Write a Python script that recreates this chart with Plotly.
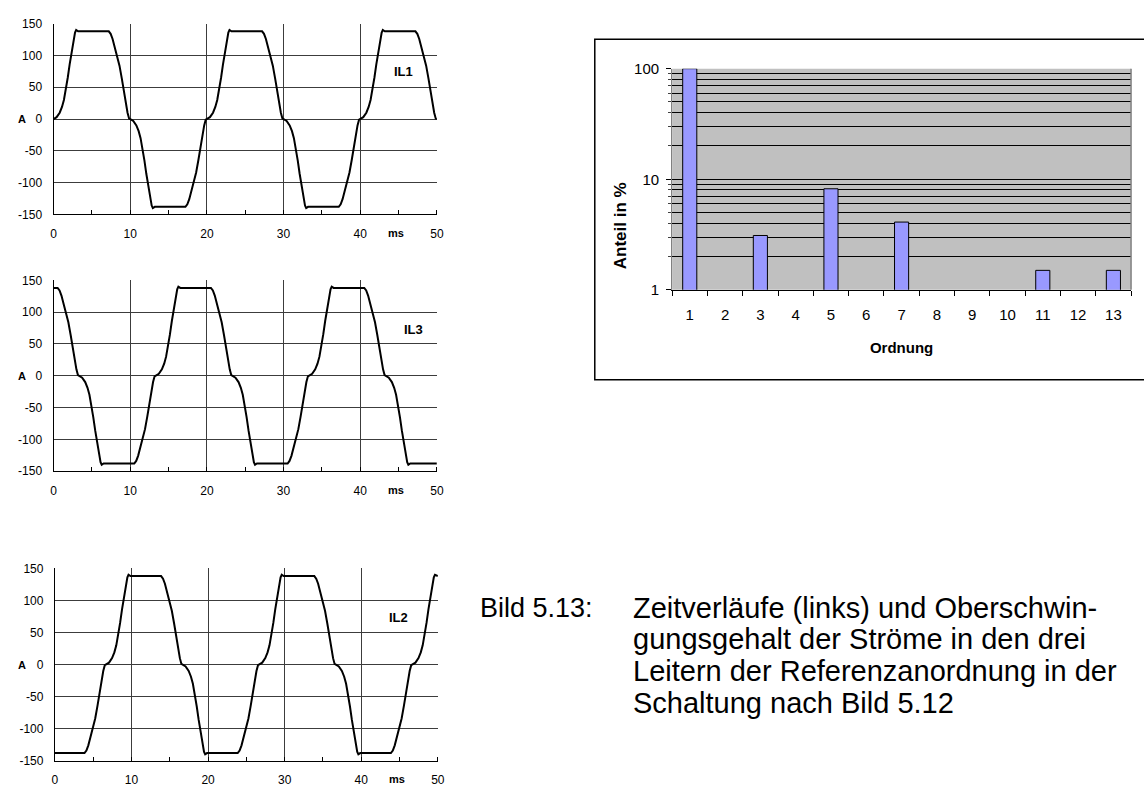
import plotly.graph_objects as go

# The graph div is pinned to the window's top-left corner and sized to the window,
# so nothing can scroll or rescale the page.
W, H = 1144, 789
FONT = "Liberation Sans, Arial, sans-serif"

# ---------------- data: phase currents (ms, A) ----------------
il1_t = [0, 0.4, 0.8, 1.1, 1.35, 1.6, 1.85, 2.1, 2.35, 2.6, 2.8, 2.95, 3.2, 7.2, 7.45, 7.7, 8.0, 8.3, 8.6, 8.9, 9.15, 9.4, 9.65, 9.85,
         10, 10.4, 10.8, 11.1, 11.35, 11.6, 11.85, 12.1, 12.35, 12.6, 12.8, 12.95, 13.2, 17.2, 17.45, 17.7, 18.0, 18.3, 18.6, 18.9, 19.15, 19.4, 19.65, 19.85,
         20, 20.4, 20.8, 21.1, 21.35, 21.6, 21.85, 22.1, 22.35, 22.6, 22.8, 22.95, 23.2, 27.2, 27.45, 27.7, 28.0, 28.3, 28.6, 28.9, 29.15, 29.4, 29.65, 29.85,
         30, 30.4, 30.8, 31.1, 31.35, 31.6, 31.85, 32.1, 32.35, 32.6, 32.8, 32.95, 33.2, 37.2, 37.45, 37.7, 38.0, 38.3, 38.6, 38.9, 39.15, 39.4, 39.65, 39.85,
         40, 40.4, 40.8, 41.1, 41.35, 41.6, 41.85, 42.1, 42.35, 42.6, 42.8, 42.95, 43.2, 47.2, 47.45, 47.7, 48.0, 48.3, 48.6, 48.9, 49.15, 49.4, 49.65, 49.85, 50]
il1_a = [0, 3, 10, 19, 30, 45, 65, 86, 104, 123, 136, 140, 138, 138, 134, 126, 112, 98, 84, 64, 45, 27, 10, 1,
         0, -3, -10, -19, -30, -45, -65, -86, -104, -123, -136, -140, -138, -138, -134, -126, -112, -98, -84, -64, -45, -27, -10, -1,
         0, 3, 10, 19, 30, 45, 65, 86, 104, 123, 136, 140, 138, 138, 134, 126, 112, 98, 84, 64, 45, 27, 10, 1,
         0, -3, -10, -19, -30, -45, -65, -86, -104, -123, -136, -140, -138, -138, -134, -126, -112, -98, -84, -64, -45, -27, -10, -1,
         0, 3, 10, 19, 30, 45, 65, 86, 104, 123, 136, 140, 138, 138, 134, 126, 112, 98, 84, 64, 45, 27, 10, 1, 0]

il3_t = [0, 0.53, 0.78, 1.03, 1.33, 1.63, 1.93, 2.23, 2.48, 2.73, 2.98, 3.18,
         3.33, 3.73, 4.13, 4.43, 4.68, 4.93, 5.18, 5.43, 5.68, 5.93, 6.13, 6.28, 6.53, 10.53, 10.78, 11.03, 11.33, 11.63, 11.93, 12.23, 12.48, 12.73, 12.98, 13.18,
         13.33, 13.73, 14.13, 14.43, 14.68, 14.93, 15.18, 15.43, 15.68, 15.93, 16.13, 16.28, 16.53, 20.53, 20.78, 21.03, 21.33, 21.63, 21.93, 22.23, 22.48, 22.73, 22.98, 23.18,
         23.33, 23.73, 24.13, 24.43, 24.68, 24.93, 25.18, 25.43, 25.68, 25.93, 26.13, 26.28, 26.53, 30.53, 30.78, 31.03, 31.33, 31.63, 31.93, 32.23, 32.48, 32.73, 32.98, 33.18,
         33.33, 33.73, 34.13, 34.43, 34.68, 34.93, 35.18, 35.43, 35.68, 35.93, 36.13, 36.28, 36.53, 40.53, 40.78, 41.03, 41.33, 41.63, 41.93, 42.23, 42.48, 42.73, 42.98, 43.18,
         43.33, 43.73, 44.13, 44.43, 44.68, 44.93, 45.18, 45.43, 45.68, 45.93, 46.13, 46.28, 46.53, 50]
il3_a = [138, 138, 134, 126, 112, 98, 84, 64, 45, 27, 10, 1,
         0, -3, -10, -19, -30, -45, -65, -86, -104, -123, -136, -140, -138, -138, -134, -126, -112, -98, -84, -64, -45, -27, -10, -1,
         0, 3, 10, 19, 30, 45, 65, 86, 104, 123, 136, 140, 138, 138, 134, 126, 112, 98, 84, 64, 45, 27, 10, 1,
         0, -3, -10, -19, -30, -45, -65, -86, -104, -123, -136, -140, -138, -138, -134, -126, -112, -98, -84, -64, -45, -27, -10, -1,
         0, 3, 10, 19, 30, 45, 65, 86, 104, 123, 136, 140, 138, 138, 134, 126, 112, 98, 84, 64, 45, 27, 10, 1,
         0, -3, -10, -19, -30, -45, -65, -86, -104, -123, -136, -140, -138, -138]

il2_t = [0, 3.87, 4.12, 4.37, 4.67, 4.97, 5.27, 5.57, 5.82, 6.07, 6.32, 6.52,
         6.67, 7.07, 7.47, 7.77, 8.02, 8.27, 8.52, 8.77, 9.02, 9.27, 9.47, 9.62, 9.87, 13.87, 14.12, 14.37, 14.67, 14.97, 15.27, 15.57, 15.82, 16.07, 16.32, 16.52,
         16.67, 17.07, 17.47, 17.77, 18.02, 18.27, 18.52, 18.77, 19.02, 19.27, 19.47, 19.62, 19.87, 23.87, 24.12, 24.37, 24.67, 24.97, 25.27, 25.57, 25.82, 26.07, 26.32, 26.52,
         26.67, 27.07, 27.47, 27.77, 28.02, 28.27, 28.52, 28.77, 29.02, 29.27, 29.47, 29.62, 29.87, 33.87, 34.12, 34.37, 34.67, 34.97, 35.27, 35.57, 35.82, 36.07, 36.32, 36.52,
         36.67, 37.07, 37.47, 37.77, 38.02, 38.27, 38.52, 38.77, 39.02, 39.27, 39.47, 39.62, 39.87, 43.87, 44.12, 44.37, 44.67, 44.97, 45.27, 45.57, 45.82, 46.07, 46.32, 46.52,
         46.67, 47.07, 47.47, 47.77, 48.02, 48.27, 48.52, 48.77, 49.02, 49.27, 49.47, 49.62, 49.87, 50]
il2_a = [-138, -138, -134, -126, -112, -98, -84, -64, -45, -27, -10, -1,
         0, 3, 10, 19, 30, 45, 65, 86, 104, 123, 136, 140, 138, 138, 134, 126, 112, 98, 84, 64, 45, 27, 10, 1,
         0, -3, -10, -19, -30, -45, -65, -86, -104, -123, -136, -140, -138, -138, -134, -126, -112, -98, -84, -64, -45, -27, -10, -1,
         0, 3, 10, 19, 30, 45, 65, 86, 104, 123, 136, 140, 138, 138, 134, 126, 112, 98, 84, 64, 45, 27, 10, 1,
         0, -3, -10, -19, -30, -45, -65, -86, -104, -123, -136, -140, -138, -138, -134, -126, -112, -98, -84, -64, -45, -27, -10, -1,
         0, 3, 10, 19, 30, 45, 65, 86, 104, 123, 136, 140, 138, 138]

time_ticks = [0, 10, 20, 30, 40, 50]
current_ticks = [-150, -100, -50, 0, 50, 100, 150]
current_labels = ["-150", "-100", "-50", "0", "50", "100", "150"]

# ---------------- data: harmonic spectrum ----------------
orders = [1, 2, 3, 4, 5, 6, 7, 8, 9, 10, 11, 12, 13]
share_pct = [100, None, 3.1, None, 8.2, None, 4.1, None, None, None, 1.5, None, 1.5]
pct_ticks = [1, 10, 100]
pct_labels = ["1", "10", "100"]
pct_minor = [2, 3, 4, 5, 6, 7, 8, 9, 20, 30, 40, 50, 60, 70, 80, 90]

caption_label = "Bild 5.13:"
caption_lines = ["Zeitverläufe (links) und Oberschwin-",
                 "gungsgehalt der Ströme in den drei",
                 "Leitern der Referenzanordnung in der",
                 "Schaltung nach Bild 5.12"]


def px_x(p):
    """window pixel (from left) -> paper fraction"""
    return min(1.0, max(0.0, p / W))


def px_y(p):
    """window pixel (from top) -> paper fraction"""
    return min(1.0, max(0.0, 1 - p / H))


fig = go.Figure()

panels = [
    ("IL1", il1_t, il1_a, (51, 437.7), (15, 210), (45.6, 75)),
    ("IL3", il3_t, il3_a, (51, 437.7), (277.3, 472.3), (46.9, 72)),
    ("IL2", il2_t, il2_a, (52.3, 438.7), (571.7, 768.3), (44.9, 74)),
]

annotations = []
for i, (name, tt, aa, xr, yr, lab) in enumerate(panels, start=1):
    sx = "" if i == 1 else str(i)
    fig.add_trace(go.Scatter(x=tt, y=aa, mode="lines", line=dict(color="black", width=2),
                             xaxis="x" + sx, yaxis="y" + sx, showlegend=False, hoverinfo="skip"))
    fig.layout["xaxis" + sx] = dict(
        domain=[px_x(xr[0]), px_x(xr[1])], anchor="y" + sx, range=[0, 50],
        tickmode="array", tickvals=time_ticks, ticks="", showline=True, linecolor="black",
        linewidth=1, showgrid=True, gridcolor="#3c3c3c", gridwidth=1, zeroline=False,
        tickfont=dict(family=FONT, size=12, color="black"), ticklabelstandoff=8,
        minor=dict(dtick=5, tick0=0, ticks="inside", ticklen=4, tickcolor="black", showgrid=False),
        fixedrange=True)
    fig.layout["yaxis" + sx] = dict(
        domain=[px_y(yr[1]), px_y(yr[0])], anchor="x" + sx, range=[-150, 150],
        tickmode="array", tickvals=current_ticks, ticktext=current_labels, ticks="",
        showline=True, linecolor="black",
        linewidth=1, showgrid=True, gridcolor="#3c3c3c", gridwidth=1, zeroline=False,
        tickfont=dict(family=FONT, size=12, color="black"), ticklabelstandoff=8,
        fixedrange=True)
    annotations.append(dict(text="<b>" + name + "</b>", x=lab[0], y=lab[1], xref="x" + sx, yref="y" + sx,
                            showarrow=False, font=dict(family=FONT, size=13, color="black")))
    annotations.append(dict(text="<b>A</b>", x=px_x(13.5), y=0, xref="paper", yref="y" + sx,
                            showarrow=False, font=dict(family=FONT, size=11, color="black")))
    annotations.append(dict(text="<b>ms</b>", x=44.7, y=px_y(yr[1] + 19), xref="x" + sx, yref="paper",
                            showarrow=False, yanchor="middle", font=dict(family=FONT, size=11, color="black")))

# ---------------- bar chart ----------------
fig.add_trace(go.Bar(x=orders, y=share_pct, width=0.4, xaxis="x4", yaxis="y4",
                     marker=dict(color="#9999FF", line=dict(color="black", width=1)),
                     showlegend=False, hoverinfo="skip"))
fig.layout["xaxis4"] = dict(
    domain=[px_x(675), px_x(1138)], anchor="y4", range=[0.5, 13.5],
    tickmode="array", tickvals=orders, ticks="", showline=True, linecolor="black", linewidth=1,
    showgrid=False, zeroline=False, tickfont=dict(family=FONT, size=15, color="black"),
    ticklabelstandoff=11,
    minor=dict(tickmode="array", tickvals=[o - 0.5 for o in orders] + [13.5], ticks="outside",
               ticklen=5, tickcolor="black", showgrid=False),
    title=dict(text="<b>Ordnung</b>", font=dict(family=FONT, size=15, color="black"), standoff=20),
    fixedrange=True)
fig.layout["yaxis4"] = dict(
    domain=[px_y(287), px_y(61)], anchor="x4", type="log", range=[0, 2],
    tickmode="array", tickvals=pct_ticks, ticktext=pct_labels, ticks="outside", ticklen=5,
    tickcolor="black", showline=True, linecolor="#808080", linewidth=1,
    showgrid=True, gridcolor="black", gridwidth=1, zeroline=False,
    tickfont=dict(family=FONT, size=15, color="black"), ticklabelstandoff=4,
    minor=dict(tickmode="array", tickvals=pct_minor, ticks="outside", ticklen=3, tickcolor="#404040",
               showgrid=True, gridcolor="black", gridwidth=1),
    fixedrange=True)

annotations.append(dict(text="<b>Anteil in %</b>", x=px_x(623), y=px_y(175), xref="paper", yref="paper",
                        textangle=-90, showarrow=False, font=dict(family=FONT, size=17, color="black")))

# caption
annotations.append(dict(text=caption_label, x=px_x(479), y=px_y(612), xref="paper", yref="paper",
                        xanchor="left", yanchor="middle", showarrow=False,
                        font=dict(family=FONT, size=27, color="black")))
for k, line in enumerate(caption_lines):
    annotations.append(dict(text=line, x=px_x(634), y=px_y(612 + 32.3 * k), xref="paper", yref="paper",
                            xanchor="left", yanchor="middle", showarrow=False,
                            font=dict(family=FONT, size=29, color="black")))

shapes = [
    dict(type="rect", xref="x4 domain", yref="y4 domain", x0=0, x1=1, y0=0, y1=1,
         fillcolor="#C0C0C0", line=dict(width=0), layer="below"),
    dict(type="rect", xref="paper", yref="paper", x0=px_x(597), x1=1.01, y0=px_y(379), y1=px_y(31),
         line=dict(color="black", width=1.5), fillcolor="rgba(0,0,0,0)", layer="below"),
    dict(type="line", xref="x4 domain", yref="y4 domain", x0=1, x1=1, y0=0, y1=1,
         line=dict(color="#808080", width=1.5)),
]

fig.update_layout(
    autosize=True, margin=dict(l=0, r=0, t=0, b=0),
    paper_bgcolor="white", plot_bgcolor="white",
    annotations=annotations, shapes=shapes,
    font=dict(family=FONT, color="black"),
)

fig.write_html("out.html", config={"displayModeBar": False},
               default_width="%dpx" % W,
               default_height="%dpx; position:fixed; top:0px; left:0px; overflow:hidden" % H)
